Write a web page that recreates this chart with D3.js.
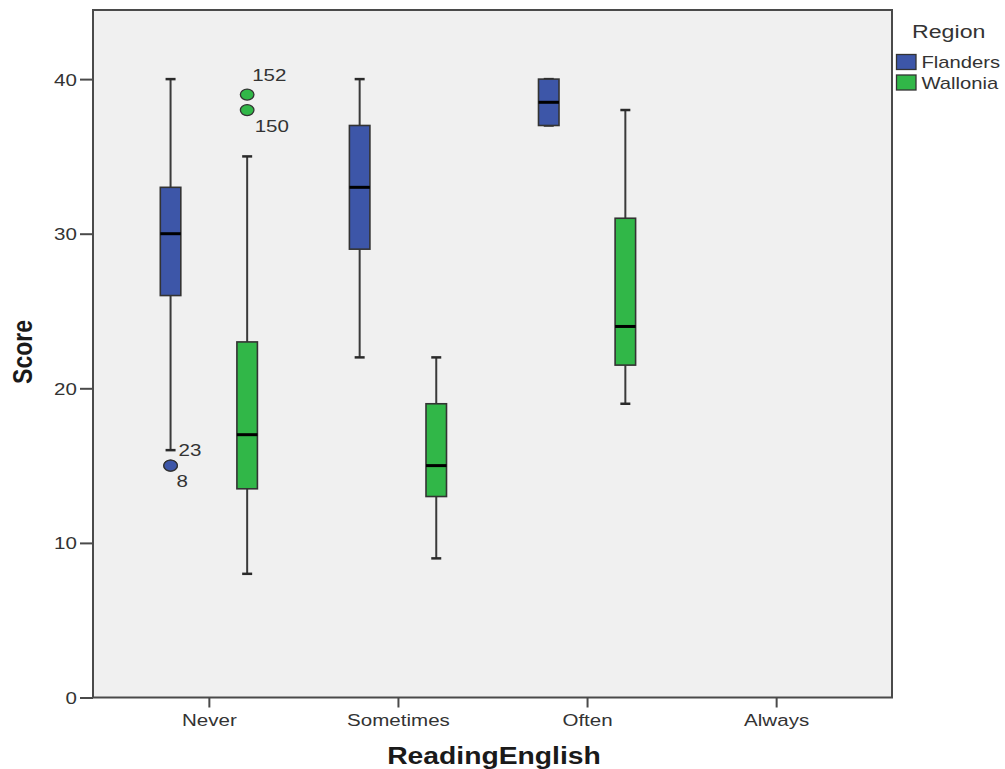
<!DOCTYPE html>
<html>
<head>
<meta charset="utf-8">
<script src="https://cdn.jsdelivr.net/npm/d3@7"></script>
<style>
  html, body { margin: 0; padding: 0; background: #fff; }
  svg { display: block; font-family: "Liberation Sans", Arial, sans-serif; }
</style>
</head>
<body>
<svg id="chart" width="1005" height="769"></svg>
<script>
// Categories on the x axis and the two groups drawn side by side
const categories = ["Never", "Sometimes", "Often", "Always"];
const regions = ["Flanders", "Wallonia"];
const regionColors = ["#3d56a8", "#31b748"];

// Five-number summaries per region, one entry per category (null = no data)
const flandersLow    = [16, 22, 37, null];
const flandersQ1     = [26, 29, 37, null];
const flandersMedian = [30, 33, 38.5, null];
const flandersQ3     = [33, 37, 40, null];
const flandersHigh   = [40, 40, 40, null];

const wallonLow      = [8, 9, 19, null];
const wallonQ1       = [13.5, 13, 21.5, null];
const wallonMedian   = [17, 15, 24, null];
const wallonQ3       = [23, 19, 31, null];
const wallonHigh     = [35, 22, 38, null];

// Outlying cases: category, region, value, case label
const outlierCategory = ["Never", "Never", "Never", "Never"];
const outlierRegion   = ["Flanders", "Flanders", "Wallonia", "Wallonia"];
const outlierValue    = [15, 15, 39, 38];
const outlierLabel    = ["23", "8", "152", "150"];

const yTicks = [0, 10, 20, 30, 40];

const svg = d3.select("#chart");
const plot = { left: 93, right: 892, top: 10, bottom: 697.5 };
const SX = 1.21;           // horizontal stretch applied to all lettering
const FONT = "'Liberation Sans', Arial, sans-serif";

const x = d3.scalePoint().domain(categories).range([plot.left, plot.right]).padding(0.6127);
const xOff = d3.scalePoint().domain(regions).range([-38.3, 38.3]);
const y = d3.scaleLinear().domain([0, 44.47]).range([plot.bottom, plot.top]);

// Text placed at (tx, ty) and widened horizontally
function label(parent, tx, ty, str, opts = {}) {
  const g = parent.append("g")
    .attr("transform", `translate(${tx},${ty}) scale(${opts.sx || SX},1)` + (opts.rotate ? ` rotate(${opts.rotate})` : ""));
  return g.append("text")
    .attr("text-anchor", opts.anchor || "start")
    .attr("font-weight", opts.bold ? "bold" : "normal")
    .attr("fill", opts.fill || "#333")
    .style("font-family", FONT)
    .style("font-size", (opts.size || 17) + "px")
    .text(str);
}

// Plot background
svg.append("rect")
  .attr("x", plot.left).attr("y", plot.top)
  .attr("width", plot.right - plot.left).attr("height", plot.bottom - plot.top)
  .attr("fill", "#f0f0f0").attr("stroke", "#4a4a4a").attr("stroke-width", 2);

// Axes (tick lines from d3; labels drawn widened)
const yAxis = svg.append("g")
  .attr("transform", `translate(${plot.left},0)`)
  .call(d3.axisLeft(y).tickValues(yTicks).tickSize(13).tickFormat(d3.format("d")));
const xAxis = svg.append("g")
  .attr("transform", `translate(0,${plot.bottom})`)
  .call(d3.axisBottom(x).tickSize(10));
[yAxis, xAxis].forEach(a => {
  a.select(".domain").remove();
  a.selectAll(".tick line").attr("stroke", "#4a4a4a").attr("stroke-width", 2);
  a.selectAll(".tick text").remove();
});
yAxis.selectAll(".tick").each(function (d) {
  label(d3.select(this), -16, 6, d3.format("d")(d), { anchor: "end", size: 17 });
});
xAxis.selectAll(".tick").each(function (d) {
  label(d3.select(this), 0, 28.5, d, { anchor: "middle", size: 17 });
});

// Build box records from the arrays
const series = [
  { region: "Flanders", low: flandersLow, q1: flandersQ1, med: flandersMedian, q3: flandersQ3, high: flandersHigh },
  { region: "Wallonia", low: wallonLow, q1: wallonQ1, med: wallonMedian, q3: wallonQ3, high: wallonHigh }
];
const boxes = [];
series.forEach((s, si) => {
  categories.forEach((c, ci) => {
    if (s.med[ci] == null) return;
    boxes.push({ cat: c, region: s.region, color: regionColors[si],
      low: s.low[ci], q1: s.q1[ci], med: s.med[ci], q3: s.q3[ci], high: s.high[ci] });
  });
});

const boxW = 20.5, capW = 10;
const g = svg.append("g");
boxes.forEach(b => {
  const cx = x(b.cat) + xOff(b.region);
  // whiskers
  g.append("line").attr("x1", cx).attr("x2", cx).attr("y1", y(b.high)).attr("y2", y(b.q3))
    .attr("stroke", "#3a3a3a").attr("stroke-width", 2);
  g.append("line").attr("x1", cx).attr("x2", cx).attr("y1", y(b.q1)).attr("y2", y(b.low))
    .attr("stroke", "#3a3a3a").attr("stroke-width", 2);
  [b.high, b.low].forEach(v => {
    g.append("line").attr("x1", cx - capW / 2).attr("x2", cx + capW / 2).attr("y1", y(v)).attr("y2", y(v))
      .attr("stroke", "#2a2a2a").attr("stroke-width", 2.5);
  });
  // box
  g.append("rect").attr("x", cx - boxW / 2).attr("y", y(b.q3))
    .attr("width", boxW).attr("height", y(b.q1) - y(b.q3))
    .attr("fill", b.color).attr("stroke", "#333").attr("stroke-width", 1.6);
  // median
  g.append("line").attr("x1", cx - boxW / 2).attr("x2", cx + boxW / 2).attr("y1", y(b.med)).attr("y2", y(b.med))
    .attr("stroke", "#000").attr("stroke-width", 3);
});

// Outliers with case labels
outlierValue.forEach((v, i) => {
  const ri = regions.indexOf(outlierRegion[i]);
  const cx = x(outlierCategory[i]) + xOff(outlierRegion[i]);
  g.append("ellipse").attr("cx", cx).attr("cy", y(v)).attr("rx", 6.8).attr("ry", 5.5)
    .attr("fill", regionColors[ri]).attr("stroke", "#333").attr("stroke-width", 1.3);
});
// label placement: first of a pair above-right, second below-right
const labelPos = { "23": [8, -10], "8": [6, 21.5], "152": [5, -14], "150": [7.5, 21.5] };
outlierValue.forEach((v, i) => {
  const cx = x(outlierCategory[i]) + xOff(outlierRegion[i]);
  const [dx, dy] = labelPos[outlierLabel[i]];
  label(g, cx + dx, y(v) + dy, outlierLabel[i], { size: 17 });
});

// Axis titles
label(svg, (plot.left + plot.right) / 2 + 1.5, 764.3, "ReadingEnglish",
  { anchor: "middle", bold: true, size: 23, sx: 1.23, fill: "#1a1a1a" });
label(svg, 31.5, 352, "Score",
  { anchor: "middle", bold: true, size: 23, sx: 1.23, rotate: -90, fill: "#1a1a1a" });

// Legend
const leg = svg.append("g");
label(leg, 912, 37.5, "Region", { size: 19, sx: 1.22 });
regions.forEach((r, i) => {
  leg.append("rect").attr("x", 896.5).attr("y", 54.5 + i * 20.5).attr("width", 19.5).attr("height", 15)
    .attr("fill", regionColors[i]).attr("stroke", "#333").attr("stroke-width", 1.3);
  label(leg, 921.5, 68.3 + i * 20.5, r, { size: 17, sx: 1.19 });
});
</script>
</body>
</html>
